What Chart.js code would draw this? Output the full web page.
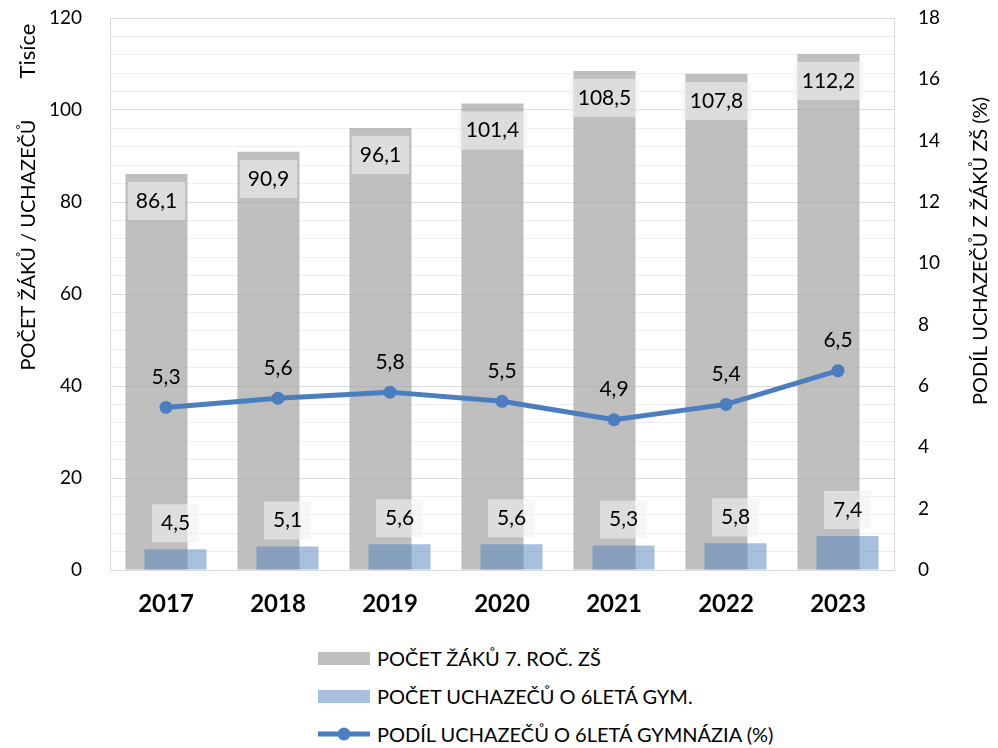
<!DOCTYPE html>
<html lang="cs">
<head>
<meta charset="utf-8">
<script src="https://cdn.jsdelivr.net/npm/chart.js@4.4.1/dist/chart.umd.min.js"></script>
<style>
    html, body { margin: 0; padding: 0; background: #fff; }
    #wrap { position: relative; width: 998px; height: 748px; font-family: Lato, sans-serif; }
    #chartBox { position: absolute; left: 0; top: 0; width: 998px; height: 632px; }
    #legend { position: absolute; left: 318px; top: 639px; }
    .item { display: flex; align-items: center; height: 38px; font-size: 20px; color: #000; }
    .swatch { width: 52px; height: 13px; margin-right: 7px; }
    .item svg { margin-right: 7px; }
</style>
</head>
<body>
<div id="wrap">
    <div id="chartBox"><canvas id="mainChart"></canvas></div>
    <div id="legend"></div>
</div>
<script>
// Data
const years = ['2017', '2018', '2019', '2020', '2021', '2022', '2023'];
const pupils = [86.1, 90.9, 96.1, 101.4, 108.5, 107.8, 112.2];      // thousands
const applicants = [4.5, 5.1, 5.6, 5.6, 5.3, 5.8, 7.4];             // thousands
const share = [5.3, 5.6, 5.8, 5.5, 4.9, 5.4, 6.5];                  // %

const seriesNames = ['POČET ŽÁKŮ 7. ROČ. ZŠ', 'POČET UCHAZEČŮ O 6LETÁ GYM.', 'PODÍL UCHAZEČŮ O 6LETÁ GYMNÁZIA (%)'];

// axis ranges
const leftMax = 120, leftMajor = 20, leftMinor = 4;
const rightMax = 18, rightStep = 2;

const GRAY = 'rgba(166, 166, 166, 0.72)';
const BLUE = 'rgba(79, 129, 189, 0.5)';
const LINE = '#4A7EBF';
const FONT = 'Lato, sans-serif';

const fmt = v => v.toFixed(1).replace('.', ',');

// Excel draws the applicants bars over the pupils bars
const overlapPlugin = {
    id: 'overlap',
    beforeDatasetDraw(chart, args) {
        if (args.index === 1) return false;
    },
    afterDatasetDraw(chart, args) {
        if (args.index === 0) chart.getDatasetMeta(1).controller.draw();
    }
};

const valueLabels = {
    id: 'valueLabels',
    afterDatasetsDraw(chart) {
        const ctx = chart.ctx;
        ctx.save();
        ctx.font = '21px ' + FONT;
        ctx.textAlign = 'center';
        ctx.textBaseline = 'middle';

        chart.getDatasetMeta(0).data.forEach((bar, i) => {
            const text = fmt(pupils[i]);
            const w = ctx.measureText(text).width + 16;
            const cy = bar.y + 27;
            ctx.fillStyle = 'rgba(242, 242, 242, 0.6)';
            ctx.fillRect(bar.x - w / 2, cy - 19, w, 38);
            ctx.fillStyle = '#000';
            ctx.fillText(text, bar.x, cy);
        });

        chart.getDatasetMeta(1).data.forEach((bar, i) => {
            const text = fmt(applicants[i]);
            const w = ctx.measureText(text).width + 18;
            const cy = bar.y - 26;
            ctx.fillStyle = 'rgba(242, 242, 242, 0.6)';
            ctx.fillRect(bar.x - w / 2, cy - 19, w, 38);
            ctx.fillStyle = '#000';
            ctx.fillText(text, bar.x, cy);
        });

        chart.getDatasetMeta(2).data.forEach((pt, i) => {
            ctx.fillStyle = '#000';
            ctx.fillText(fmt(share[i]), pt.x, pt.y - 30);
        });
        ctx.restore();
    }
};

const axisTitles = {
    id: 'axisTitles',
    afterDraw(chart) {
        const {ctx, chartArea: a} = chart;
        const put = (text, x, y) => {
            ctx.save();
            ctx.translate(x, y);
            ctx.rotate(-Math.PI / 2);
            ctx.fillText(text, 0, 0);
            ctx.restore();
        };
        ctx.save();
        ctx.fillStyle = '#000';
        ctx.textAlign = 'center';
        ctx.textBaseline = 'middle';
        ctx.font = '22px ' + FONT;
        put('Tisíce', a.left - 82, a.top + 33);
        ctx.font = '20px ' + FONT;
        put('POČET ŽÁKŮ / UCHAZEČŮ', a.left - 81, a.top + 227);
        put('PODÍL UCHAZEČŮ Z ŽÁKŮ ZŠ (%)', a.right + 87, a.top + 233);
        ctx.restore();
    }
};

// fixed side widths; tick padding should not push the plot area down
const fixSide = w => s => {
    s.width = w;
    s.paddingTop = 0;
    s.paddingBottom = 0;
};

const chart = new Chart(document.getElementById('mainChart'), {
    type: 'bar',
    data: {
        labels: years,
        datasets: [{
            label: seriesNames[0],
            data: pupils,
            backgroundColor: GRAY,
            yAxisID: 'y',
            order: 1,
            categoryPercentage: 0.34,
            barPercentage: 3.26
        }, {
            label: seriesNames[1],
            data: applicants,
            backgroundColor: BLUE,
            yAxisID: 'y',
            order: 1,
            categoryPercentage: 0.34,
            barPercentage: 3.26
        }, {
            type: 'line',
            label: seriesNames[2],
            data: share,
            borderColor: LINE,
            backgroundColor: LINE,
            borderWidth: 5,
            pointRadius: 6.5,
            pointBackgroundColor: LINE,
            pointBorderWidth: 0,
            tension: 0,
            yAxisID: 'y1',
            order: 0
        }]
    },
    options: {
        responsive: true,
        maintainAspectRatio: false,
        animation: false,
        layout: { padding: { top: 18, left: 0, right: 0, bottom: 0 } },
        plugins: {
            legend: { display: false },
            tooltip: { enabled: false }
        },
        scales: {
            x: {
                grid: { display: false, drawTicks: false },
                border: { display: false },
                ticks: { color: '#000', padding: 20, font: { family: FONT, size: 24, weight: 'bold' } },
                afterFit: s => { s.height = 62; }
            },
            y: {
                position: 'left',
                min: 0,
                max: leftMax,
                ticks: {
                    stepSize: leftMinor,
                    autoSkip: false,
                    padding: 28,
                    color: '#000',
                    font: { family: FONT, size: 19 },
                    callback: v => (v % leftMajor === 0 ? v : '')
                },
                grid: {
                    drawTicks: false,
                    color: c => (c.tick.value % leftMajor === 0 ? '#D9D9D9' : '#EEEEEE')
                },
                border: { display: true, color: '#D9D9D9' },
                afterFit: fixSide(110)
            },
            y1: {
                position: 'right',
                min: 0,
                max: rightMax,
                ticks: {
                    stepSize: rightStep,
                    padding: 24,
                    color: '#000',
                    font: { family: FONT, size: 19 }
                },
                grid: { display: false, drawTicks: false },
                border: { display: true, color: '#D9D9D9' },
                afterFit: fixSide(104)
            }
        }
    },
    plugins: [overlapPlugin, valueLabels, axisTitles]
});

// legend as a left-aligned column under the chart
const legend = document.getElementById('legend');
chart.data.datasets.forEach(ds => {
    const row = document.createElement('div');
    row.className = 'item';
    if (ds.type === 'line') {
        row.innerHTML = '<svg width="52" height="14"><line x1="0" y1="7" x2="52" y2="7" stroke="' + LINE +
            '" stroke-width="5"/><circle cx="26" cy="7" r="6.5" fill="' + LINE + '"/></svg>';
    } else {
        const sw = document.createElement('span');
        sw.className = 'swatch';
        sw.style.background = ds.backgroundColor;
        row.appendChild(sw);
    }
    const label = document.createElement('span');
    label.textContent = ds.label;
    row.appendChild(label);
    legend.appendChild(row);
});
</script>
</body>
</html>
